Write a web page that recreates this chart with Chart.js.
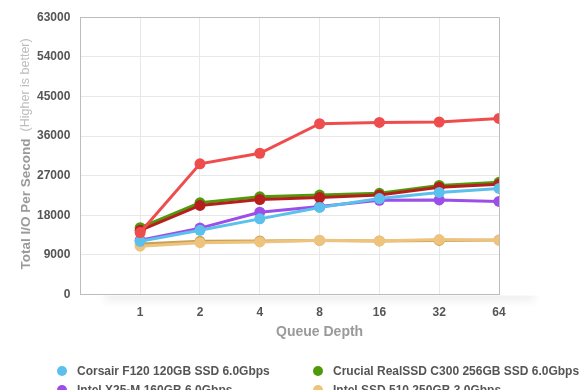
<!DOCTYPE html>
<html>
<head>
<meta charset="utf-8">
<script src="https://cdn.jsdelivr.net/npm/chart.js@4.4.1/dist/chart.umd.min.js"></script>
<style>
  html, body { margin: 0; padding: 0; background: #fff; overflow: hidden; }
  #wrap { position: relative; width: 580px; height: 390px; }
  #legend {
    position: absolute; left: 57px; top: 362px; width: 523px;
    display: grid; grid-template-columns: 256px 267px; row-gap: 1px;
    font: bold 12px "Liberation Sans", Arial, sans-serif; color: #555;
  }
  #legend div { height: 18px; line-height: 18px; white-space: nowrap; }
  #legend span { display: inline-block; width: 10px; height: 10px; border-radius: 50%;
    margin-right: 10px; vertical-align: -1px; }
</style>
</head>
<body>
<div id="wrap">
  <canvas id="ioChart" width="580" height="390"></canvas>
  <div id="legend"></div>
</div>
<script>
// Queue depth results
const queueDepths = ['1', '2', '4', '8', '16', '32', '64'];
const yTicks = [0, 9000, 18000, 27000, 36000, 45000, 54000, 63000];

const corsairF120 = [12100, 14600, 17200, 19800, 21800, 23200, 24100];
const crucialC300 = [15200, 20850, 22200, 22600, 23000, 24800, 25500];
const intelX25M = [12350, 15100, 18700, 20000, 21400, 21500, 21150];
const intel510 = [11000, 11800, 11950, 12350, 12200, 12500, 12350];
const ocz3_240 = [14100, 29700, 32100, 38800, 39100, 39200, 40000];
const ocz3_120 = [14600, 20250, 21600, 22050, 22600, 24400, 25050];
const kingston = [11500, 12100, 12200, 12300, 12200, 12300, 12400];

const names = [
    'Corsair F120 120GB SSD 6.0Gbps',
    'Crucial RealSSD C300 256GB SSD 6.0Gbps',
    'Intel X25-M 160GB 6.0Gbps',
    'Intel SSD 510 250GB 3.0Gbps',
    'OCZ Vertex 3 240GB 6.0Gbps',
    'OCZ Vertex 3 120GB 6.0Gbps',
    'Kingston SSDNow V+100 256GB 3.0Gbps'
];
const series = [corsairF120, crucialC300, intelX25M, intel510, ocz3_240, ocz3_120, kingston];
const colors = ['#5bc0ec', '#4f9a0a', '#9c4dea', '#eec37d', '#ef4d4d', '#b91e1e', '#c9a258'];
const drawOrder = [1, 4, 3, 2, 0, 2, 5];

const font = '"Liberation Sans", Arial, sans-serif';

// axis titles drawn by hand (y title has two styles)
const axisTitles = {
    id: 'axisTitles',
    afterDraw(chart) {
        const c = chart.ctx, a = chart.chartArea, xs = chart.scales.x;
        const main = 'Total I/O Per Second', note = '(Higher is better)';
        c.save();
        c.font = 'bold 13.5px ' + font;
        const w1 = c.measureText(main).width;
        c.font = '12.5px ' + font;
        const w2 = c.measureText(note).width;
        const gap = 7;
        c.translate(26, (a.top + a.bottom) / 2 - 2);
        c.rotate(-Math.PI / 2);
        c.textBaseline = 'middle';
        const x = -(w1 + gap + w2) / 2;
        c.font = 'bold 13.5px ' + font;
        c.fillStyle = '#9a9a9a';
        c.fillText(main, x, 0);
        c.font = '12.5px ' + font;
        c.fillStyle = '#bdbdbd';
        c.fillText(note, x + w1 + gap, 0);
        c.restore();

        c.save();
        c.font = 'bold 14px ' + font;
        c.fillStyle = '#9a9a9a';
        c.textAlign = 'center';
        c.textBaseline = 'middle';
        c.fillText('Queue Depth', (xs.getPixelForValue(1) + xs.getPixelForValue(7)) / 2, a.bottom + 38);
        c.restore();
    }
};

// soft shadow under the x axis
const axisShadow = {
    id: 'axisShadow',
    beforeDraw(chart) {
        const c = chart.ctx, a = chart.chartArea;
        c.save();
        c.beginPath();
        c.rect(0, a.bottom + 1, chart.width, 20);
        c.clip();
        c.filter = 'blur(4px)';
        c.fillStyle = 'rgba(0,0,0,0.07)';
        c.fillRect(a.left + 25, a.bottom - 4, a.right - a.left + 10, 10);
        c.restore();
    }
};

const edge = '#bcbcbc', grid = '#e8e8e8';

const ctx = document.getElementById('ioChart').getContext('2d');
const chart = new Chart(ctx, {
    type: 'line',
    data: {
        datasets: series.map((s, i) => ({
            label: names[i],
            data: s.map((v, j) => ({ x: j + 1, y: v })),
            borderColor: colors[i],
            backgroundColor: colors[i],
            borderWidth: 3,
            pointRadius: 5.5,
            pointBorderWidth: 0,
            pointHoverRadius: 5.5,
            order: drawOrder[i],
            tension: 0
        }))
    },
    options: {
        responsive: false,
        animation: false,
        layout: { padding: { left: 27, right: 81, top: 5, bottom: 59 } },
        plugins: { legend: { display: false }, tooltip: { enabled: false } },
        scales: {
            x: {
                type: 'linear',
                min: 0,
                max: 7,
                ticks: {
                    stepSize: 1,
                    padding: 11,
                    color: '#555',
                    font: { family: font, size: 12, weight: 'bold' },
                    callback: v => v >= 1 ? queueDepths[v - 1] : ''
                },
                grid: {
                    drawTicks: false,
                    color: c => (c.tick && (c.tick.value === 0 || c.tick.value === 7)) ? edge : grid
                },
                border: { color: edge }
            },
            y: {
                min: 0,
                max: 63000,
                afterBuildTicks: axis => { axis.ticks = yTicks.map(v => ({ value: v })); },
                ticks: {
                    padding: 10,
                    color: '#555',
                    font: { family: font, size: 12, weight: 'bold' },
                    callback: v => String(v)
                },
                grid: {
                    drawTicks: false,
                    color: c => (c.tick && c.tick.value === 63000) ? edge : grid
                },
                border: { color: edge }
            }
        }
    },
    plugins: [axisTitles, axisShadow]
});

// two column legend under the chart
const legend = document.getElementById('legend');
names.forEach((n, i) => {
    const d = document.createElement('div');
    d.innerHTML = '<span style="background:' + colors[i] + '"></span>' + n;
    legend.appendChild(d);
});
</script>
</body>
</html>
